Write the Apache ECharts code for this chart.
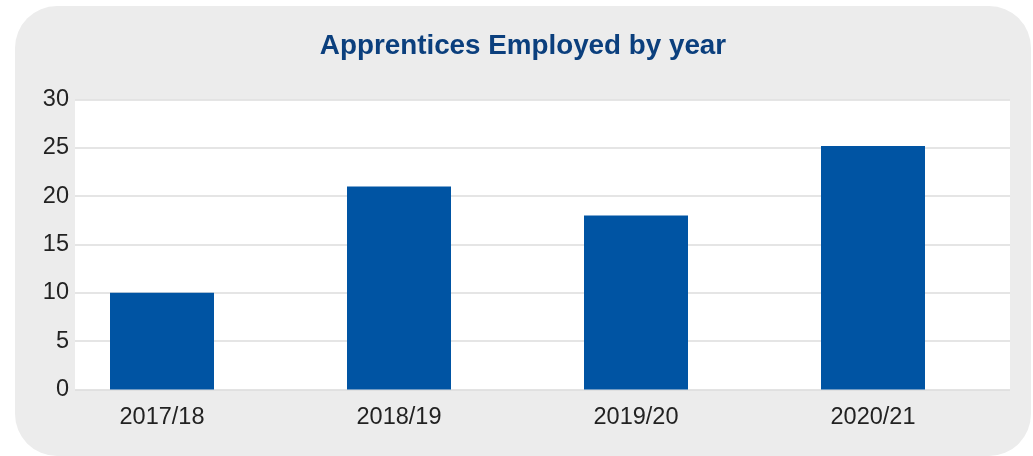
<!DOCTYPE html>
<html>
<head>
<meta charset="utf-8">
<script src="https://cdn.jsdelivr.net/npm/echarts@6/dist/echarts.min.js"></script>
<style>
  html, body { margin: 0; padding: 0; background: #fff; }
  #panel {
    position: absolute; left: 15px; top: 6px; width: 1016px; height: 450px;
    background: #ececec; border-radius: 42px;
  }
  #chart { position: absolute; left: 0; top: 0; width: 1033px; height: 456px; }
</style>
</head>
<body>
<div id="panel"></div>
<div id="chart"></div>
<script>
  const titleText = 'Apprentices Employed by year'
  const years = ['2017/18', '2018/19', '2019/20', '2020/21']
  const apprentices = [10, 21, 18, 25.2]
  const yTicks = { min: 0, max: 30, interval: 5 }

  const labelFont = '"Liberation Sans", Arial, Helvetica, sans-serif'

  let myChart = echarts.init(document.getElementById('chart'))
  myChart.setOption({
    backgroundColor: 'transparent',
    animation: false,
    title: {
      text: titleText,
      left: 518,
      textAlign: 'center',
      top: 27,
      textStyle: {
        color: '#0b3f7d',
        fontSize: 27.8,
        fontWeight: 'bold',
        fontFamily: labelFont
      }
    },
    grid: [
      // white plot area with gridlines
      {
        left: 75, right: 23, top: 99.5, bottom: 66.5,
        show: true, backgroundColor: '#fff', borderWidth: 0
      },
      // bars sit on this one, shifted left like the source
      {
        left: 43.5, right: 41.5, top: 99.5, bottom: 66.5
      }
    ],
    xAxis: [
      {
        gridIndex: 0,
        type: 'category',
        data: years,
        show: false
      },
      {
        gridIndex: 1,
        type: 'category',
        data: years,
        axisLine: { show: false },
        axisTick: { show: false },
        axisLabel: {
          color: '#222',
          fontSize: 23.5,
          fontFamily: labelFont,
          margin: 16
        }
      }
    ],
    yAxis: [
      {
        gridIndex: 0,
        type: 'value',
        min: yTicks.min,
        max: yTicks.max,
        interval: yTicks.interval,
        axisLine: { show: false },
        axisTick: { show: false },
        axisLabel: {
          color: '#222',
          fontSize: 23.5,
          fontFamily: labelFont,
          margin: 6
        },
        splitLine: {
          show: true,
          lineStyle: { color: '#dcdcdc', width: 1.5 }
        }
      },
      {
        gridIndex: 1,
        type: 'value',
        min: yTicks.min,
        max: yTicks.max,
        interval: yTicks.interval,
        show: false,
        splitLine: { show: false }
      }
    ],
    series: [
      {
        type: 'bar',
        xAxisIndex: 1,
        yAxisIndex: 1,
        data: apprentices,
        barWidth: 104,
        itemStyle: { color: '#0054a3' },
        z: 3
      }
    ]
  })
</script>
</body>
</html>
